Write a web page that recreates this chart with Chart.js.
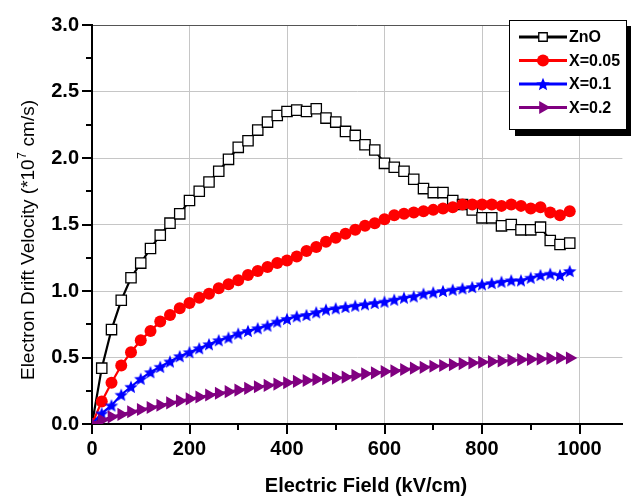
<!DOCTYPE html>
<html><head><meta charset="utf-8">
<script src="https://cdn.jsdelivr.net/npm/chart.js@4.4.1/dist/chart.umd.min.js"></script>
<style>html,body{margin:0;padding:0;background:#fff;overflow:hidden}#wrap{position:relative;width:631px;height:498px}canvas{display:block}</style>
</head><body><div id="wrap"><canvas id="c" width="631" height="498"></canvas></div>
<script>
// ---- data ----
const field = [0,20,40,60,80,100,120,140,160,180,200,220,240,260,280,300,320,340,360,380,400,420,440,460,480,500,520,540,560,580,600,620,640,660,680,700,720,740,760,780,800,820,840,860,880,900,920,940,960,980];
const zno = [0,0.42,0.71,0.93,1.10,1.21,1.32,1.42,1.51,1.58,1.68,1.75,1.82,1.90,1.99,2.08,2.13,2.21,2.27,2.32,2.35,2.36,2.35,2.37,2.30,2.27,2.20,2.17,2.10,2.06,1.96,1.93,1.90,1.84,1.77,1.74,1.74,1.68,1.65,1.61,1.55,1.55,1.49,1.50,1.46,1.46,1.48,1.38,1.35,1.36];
const x005 = [0,0.17,0.31,0.44,0.54,0.63,0.70,0.77,0.82,0.87,0.91,0.95,0.98,1.02,1.05,1.08,1.12,1.15,1.18,1.21,1.23,1.26,1.30,1.33,1.37,1.40,1.43,1.46,1.49,1.51,1.54,1.57,1.58,1.59,1.60,1.61,1.62,1.63,1.65,1.65,1.65,1.65,1.64,1.65,1.64,1.62,1.63,1.59,1.57,1.60];
const x01 = [0,0.08,0.14,0.22,0.28,0.34,0.39,0.43,0.47,0.51,0.54,0.57,0.60,0.63,0.65,0.68,0.70,0.72,0.74,0.77,0.79,0.81,0.82,0.84,0.86,0.87,0.88,0.89,0.90,0.91,0.92,0.935,0.95,0.96,0.98,0.99,1.00,1.01,1.02,1.03,1.05,1.06,1.07,1.08,1.08,1.10,1.12,1.13,1.12,1.15];
const x02 = [0,0.03,0.054,0.072,0.092,0.109,0.124,0.141,0.159,0.174,0.189,0.203,0.218,0.231,0.243,0.255,0.268,0.28,0.29,0.30,0.31,0.32,0.327,0.335,0.34,0.345,0.352,0.365,0.377,0.385,0.394,0.40,0.41,0.42,0.426,0.434,0.44,0.446,0.454,0.459,0.464,0.469,0.474,0.479,0.484,0.486,0.489,0.493,0.496,0.496];
const seriesNames = ['ZnO','X=0.05','X=0.1','X=0.2'];
const xMajorTicks = [0,200,400,600,800,1000];
const yMajorTicks = ['0.0','0.5','1.0','1.5','2.0','2.5','3.0'];
const xTitle = 'Electric Field (kV/cm)';
const yTitleParts = ['Electron Drift Velocity (*10','7',' cm/s)'];

// ---- styling ----
const FONT = '"Liberation Sans", Arial, Helvetica, sans-serif';
const GRID = '#c6c6c6';

function starImg(color, R){
  const s = Math.ceil(R*2)+2;
  const c = document.createElement('canvas'); c.width = s; c.height = s;
  const g = c.getContext('2d'); g.fillStyle = color; g.beginPath();
  for (let i=0;i<10;i++){ const r = i%2 ? R*0.45 : R; const a = -Math.PI/2 + i*Math.PI/5;
    g.lineTo(s/2 + r*Math.cos(a), s/2 + 0.7 + r*Math.sin(a)); }
  g.closePath(); g.fill(); return c;
}
const star = starImg('#0000ff', 7);

const pts = arr => arr.map((v,i)=>({x:field[i], y:v}));
const datasets = [
  {label:seriesNames[0], data:pts(zno), borderColor:'#000', borderWidth:2.2, pointStyle:'rect', pointRadius:7.3,
   pointBackgroundColor:'#fff', pointBorderColor:'#000', pointBorderWidth:1.3, order:4},
  {label:seriesNames[1], data:pts(x005), borderColor:'#ff0000', borderWidth:2.2, pointStyle:'circle', pointRadius:6,
   pointBackgroundColor:'#ff0000', pointBorderColor:'#ff0000', pointBorderWidth:0, order:3},
  {label:seriesNames[2], data:pts(x01), borderColor:'#0000ff', borderWidth:2.2, pointStyle:star, pointRadius:7,
   pointBackgroundColor:'#0000ff', pointBorderColor:'#0000ff', pointBorderWidth:0, order:2},
  {label:seriesNames[3], data:pts(x02), borderColor:'#800080', borderWidth:2.2, pointStyle:'triangle', pointRadius:7.6, pointRotation:90,
   pointBackgroundColor:'#800080', pointBorderColor:'#800080', pointBorderWidth:0, order:1}
];

const isMajorX = v => xMajorTicks.includes(v);
const isMajorY = v => yMajorTicks.includes(v.toFixed(1)) && Math.abs(v*2 - Math.round(v*2)) < 1e-6;

const decorPlugin = {
  id:'decor',
  afterDraw(chart){
    const ctx = chart.ctx, a = chart.chartArea, xs = chart.scales.x, ys = chart.scales.y;
    ctx.save();
    // tick marks
    ctx.strokeStyle = '#000'; ctx.lineWidth = 2;
    xs.ticks.forEach(t => { const p = Math.round(xs.getPixelForValue(t.value));
      const len = isMajorX(t.value) ? 10 : 6;
      ctx.beginPath(); ctx.moveTo(p, a.bottom); ctx.lineTo(p, a.bottom+len); ctx.stroke(); });
    ys.ticks.forEach(t => { const p = Math.round(ys.getPixelForValue(t.value));
      const len = isMajorY(t.value) ? 10 : 6;
      ctx.beginPath(); ctx.moveTo(a.left, p); ctx.lineTo(a.left-len, p); ctx.stroke(); });
    // axis titles
    ctx.fillStyle = '#000';
    ctx.font = 'bold 20px ' + FONT; ctx.textAlign = 'center'; ctx.textBaseline = 'middle';
    ctx.fillText(xTitle, 366, 486);
    ctx.translate(29, 240); ctx.rotate(-Math.PI/2);
    ctx.font = '19px ' + FONT; ctx.textAlign = 'left'; ctx.textBaseline = 'middle';
    const w1 = ctx.measureText(yTitleParts[0]).width, w3 = ctx.measureText(yTitleParts[2]).width;
    ctx.font = '12px ' + FONT; const w2 = ctx.measureText(yTitleParts[1]).width + 1;
    let x0 = -(w1+w2+w3)/2;
    ctx.font = '19px ' + FONT; ctx.fillText(yTitleParts[0], x0, 0);
    ctx.font = '12px ' + FONT; ctx.fillText(yTitleParts[1], x0 + w1 + 0.5, -6);
    ctx.font = '19px ' + FONT; ctx.fillText(yTitleParts[2], x0 + w1 + w2, 0);
    ctx.restore();
    // legend
    ctx.save();
    const L = 509, T = 20, R = 627, B = 130;
    ctx.fillStyle = '#000'; ctx.fillRect(L+6, T+6, R-L, B-T);
    ctx.fillStyle = '#fff'; ctx.fillRect(L, T, R-L, B-T);
    ctx.strokeStyle = '#000'; ctx.lineWidth = 1; ctx.strokeRect(L+0.5, T+0.5, R-L-1, B-T-1);
    const rows = [37, 60.5, 84, 107.5];
    chart.data.datasets.forEach((ds, i) => {
      const y = rows[i];
      ctx.strokeStyle = ds.borderColor; ctx.lineWidth = 3;
      ctx.beginPath(); ctx.moveTo(519, y); ctx.lineTo(567, y); ctx.stroke();
      ctx.fillStyle = ds.pointBackgroundColor; ctx.strokeStyle = ds.pointBorderColor; ctx.lineWidth = ds.pointBorderWidth || 0;
      Chart.helpers.drawPoint(ctx, {pointStyle: ds.pointStyle, radius: ds.pointStyle==='rect'?6:ds.pointRadius, rotation: ds.pointRotation||0, borderWidth: ds.pointBorderWidth||0}, 543, y);
      ctx.fillStyle = '#000'; ctx.font = 'bold 16px ' + FONT; ctx.textAlign = 'left'; ctx.textBaseline = 'middle';
      ctx.fillText(ds.label, 569, y + 1);
    });
    ctx.restore();
  }
};

new Chart(document.getElementById('c'), {
  type:'line',
  data:{ datasets },
  options:{
    responsive:false, animation:false, devicePixelRatio:1,
    layout:{ padding:{ top:20, left:0, right:0, bottom:0 } },
    elements:{ line:{ tension:0 } },
    plugins:{ legend:{ display:false }, tooltip:{ enabled:false } },
    scales:{
      x:{ type:'linear', min:0, max:1088, position:'bottom',
        afterFit: s => { s.height = 74; },
        ticks:{ stepSize:100, autoSkip:false, includeBounds:false, maxRotation:0, padding:13, color:'#000',
          font:{ family:FONT, size:20, weight:'bold' }, callback: v => isMajorX(v) ? String(v) : '' },
        grid:{ drawTicks:false, lineWidth:1, color: c => (c.tick && isMajorX(c.tick.value)) ? GRID : 'rgba(0,0,0,0)' },
        border:{ display:true, color:'#000', width:2 } },
      y:{ type:'linear', min:0, max:3,
        afterFit: s => { s.width = 92; },
        ticks:{ stepSize:0.25, autoSkip:false, padding:13, color:'#000',
          font:{ family:FONT, size:20, weight:'bold' }, callback: v => isMajorY(v) ? v.toFixed(1) : '' },
        grid:{ drawTicks:false, lineWidth:1, color: c => { if (!c.tick || !isMajorY(c.tick.value)) return 'rgba(0,0,0,0)'; return c.tick.value === 3 ? '#555' : GRID; } },
        border:{ display:true, color:'#000', width:2 } }
    }
  },
  plugins:[decorPlugin]
});
</script>
</body></html>
